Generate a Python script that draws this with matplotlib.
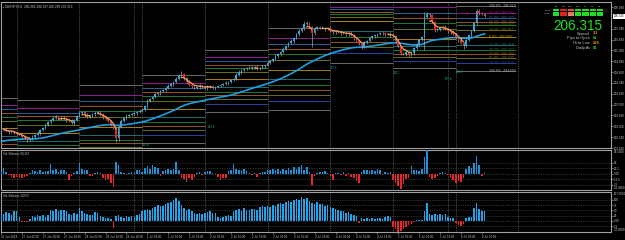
import matplotlib
matplotlib.use("Agg")
import matplotlib.pyplot as plt
import matplotlib.transforms as mtrans
from matplotlib.patches import Rectangle
import numpy as np

plt.rcParams["font.family"] = ["Liberation Sans", "DejaVu Sans"]

W, H = 625, 240

# hourly closes, GBPJPY H1, 26 Jun 18:00 -> 8 Jul 11:00
CLOSES = [
    202.95, 202.98, 202.92, 202.89, 202.92, 202.86, 202.83, 202.81, 202.75, 202.72,
    202.66, 202.69, 202.75, 202.81, 202.86, 202.95, 203.01, 203.10, 203.19, 203.25,
    203.31, 203.34, 203.31, 203.28, 203.31, 203.25, 203.22, 203.16, 203.25, 203.37,
    203.45, 203.48, 203.40, 203.34, 203.37, 203.42, 203.45, 203.48, 203.40, 203.34,
    203.28, 203.22, 203.13, 203.01, 202.72, 203.04, 203.22, 203.31, 203.37, 203.40,
    203.42, 203.45, 203.48, 203.51, 203.54, 203.66, 203.81, 203.87, 203.93, 204.01,
    204.04, 204.10, 204.13, 204.19, 204.25, 204.31, 204.37, 204.46, 204.55, 204.60,
    204.49, 204.37, 204.28, 204.25, 204.19, 204.22, 204.25, 204.22, 204.19, 204.25,
    204.22, 204.19, 204.22, 204.25, 204.28, 204.31, 204.34, 204.37, 204.43, 204.46,
    204.58, 204.66, 204.72, 204.75, 204.78, 204.78, 204.81, 204.81, 204.75, 204.78,
    204.84, 204.87, 204.93, 204.99, 205.05, 205.14, 205.19, 205.25, 205.34, 205.43,
    205.52, 205.58, 205.67, 205.78, 205.87, 205.96, 206.08, 206.11, 205.99, 205.81,
    205.93, 205.99, 205.96, 205.96, 205.93, 205.96, 205.87, 205.84, 205.87, 205.84,
    205.81, 205.81, 205.78, 205.81, 205.75, 205.67, 205.58, 205.49, 205.40, 205.52,
    205.58, 205.67, 205.73, 205.75, 205.78, 205.81, 205.81, 205.78, 205.78, 205.75,
    205.73, 205.58, 205.43, 205.22, 205.19, 205.25, 205.16, 205.22, 205.37, 205.46,
    205.61, 205.70, 206.29, 206.37, 206.34, 206.14, 205.90, 205.90, 205.96, 205.99,
    205.93, 205.87, 205.84, 205.78, 205.70, 205.61, 205.52, 205.43, 205.61, 205.75,
    205.87, 206.11, 206.46, 206.40, 206.37, 206.315,
]
FIRST_OPEN = 202.92

# wick lengths above / below the body, in pips (0.01)
WICK_HI = [
    4, 3, 5, 2, 4, 3, 2, 4, 3, 5,
    3, 2, 4, 3, 5, 4, 3, 6, 4, 3,
    5, 4, 3, 4, 6, 3, 2, 5, 4, 3,
    6, 4, 3, 5, 3, 4, 5, 3, 2, 4,
    3, 5, 3, 4, 4, 6, 5, 3, 4, 3,
    2, 4, 3, 5, 4, 3, 6, 4, 3, 5,
    4, 3, 4, 3, 5, 4, 3, 5, 6, 9,
    3, 4, 5, 3, 4, 3, 5, 4, 3, 4,
    3, 5, 4, 3, 4, 3, 5, 4, 3, 4,
    6, 5, 3, 4, 3, 5, 4, 3, 6, 4,
    3, 4, 5, 3, 4, 6, 4, 3, 5, 4,
    3, 6, 4, 3, 5, 4, 8, 6, 4, 3,
    5, 4, 3, 6, 4, 3, 5, 4, 3, 4,
    5, 3, 4, 3, 5, 4, 3, 4, 3, 5,
    4, 3, 4, 5, 3, 4, 6, 4, 3, 5,
    4, 3, 6, 4, 3, 5, 4, 3, 4, 5,
    3, 4, 14, 6, 5, 3, 4, 5, 3, 4,
    6, 4, 3, 5, 4, 3, 6, 4, 3, 5,
    4, 3, 6, 5, 4, 3,
]
WICK_LO = [
    3, 4, 3, 5, 3, 4, 3, 5, 4, 3,
    6, 4, 3, 4, 3, 5, 3, 4, 3, 5,
    4, 3, 5, 4, 3, 6, 4, 3, 5, 4,
    3, 4, 6, 3, 4, 3, 5, 4, 3, 6,
    4, 3, 5, 4, 12, 8, 4, 3, 5, 4,
    3, 4, 5, 3, 4, 3, 5, 4, 3, 4,
    3, 5, 4, 3, 4, 3, 5, 4, 3, 4,
    5, 4, 3, 6, 4, 3, 5, 4, 3, 5,
    4, 3, 5, 4, 3, 4, 3, 5, 4, 3,
    4, 3, 5, 4, 3, 4, 6, 5, 3, 4,
    3, 5, 4, 3, 4, 3, 5, 4, 3, 4,
    3, 4, 5, 3, 4, 3, 5, 4, 3, 41,
    5, 3, 4, 3, 6, 4, 3, 5, 4, 3,
    4, 3, 5, 4, 3, 5, 4, 3, 6, 4,
    3, 4, 3, 5, 4, 3, 4, 5, 3, 4,
    3, 5, 4, 6, 3, 4, 5, 3, 4, 3,
    4, 3, 38, 5, 4, 3, 6, 4, 3, 4,
    3, 5, 4, 3, 4, 5, 3, 9, 4, 3,
    4, 3, 5, 4, 3, 4,
]

VB_FAST = [
    6, 13, 4, -3, -7, -9, -6, -8, -10, -7,
    -5, 3, 9, 6, 5, 8, 4, 7, 6, 23,
    9, 11, 5, 8, 10, 4, -14, -5, 3, 6,
    25, 12, 8, 10, -5, -4, 3, 4, 2, -10,
    -14, -12, -20, -30, 27, 20, 5, 3, -3, 2,
    4, 3, 10, 8, 5, 14, 18, 12, 20, 16,
    13, -5, 6, 10, 12, 8, 11, 27, 9, -8,
    -12, -19, -10, -13, -6, 3, 5, -2, 4, 6,
    7, 3, -2, -6, -14, -10, -8, 6, 8, 22,
    12, 10, 8, 11, 6, 2, -3, 3, -6, 2,
    4, 5, 10, 8, 12, 9, 11, 7, 12, 10,
    14, 9, 16, 12, 15, 20, 8, 17, 5, -25,
    -4, 3, 5, 4, 6, 3, -5, -14, 2, 3,
    -3, 4, -4, 3, -6, -10, -17, -20, 5, 8,
    9, 6, 10, 7, 11, 8, -3, 4, 3, 5,
    -14, -20, -28, -34, -22, -12, -10, 18, 8, 10,
    6, 12, 38, 55, -6, -12, -10, -5, 3, 4,
    2, -3, -10, -14, -20, -16, -18, -8, 12, 18,
    14, 25, 40, 20, -4, 2,
]
VB_SLOW = [
    30, 35, 42, 38, 30, 45, 48, 20, -5, -6,
    -4, 10, 22, 18, 28, 25, 30, 20, 28, 50,
    45, 55, 48, 50, 52, 45, 35, 30, 38, 35,
    60, 45, 40, 35, 28, 30, 42, 38, 25, 20,
    15, 12, 10, -35, 25, 30, 20, 15, 22, 18,
    25, 20, 30, 35, 45, 50, 58, 52, 62, 68,
    75, 70, 72, 80, 85, 90, 100, 110, 95, 75,
    60, 50, 55, 45, 38, 35, 40, 32, 38, 42,
    45, 40, 38, 20, 15, 18, 22, 30, 25, 45,
    50, 55, 48, 60, 52, 50, 55, 58, 50, 65,
    70, 68, 72, 65, 75, 70, 78, 85, 80, 90,
    95, 88, 100, 105, 98, 115, 102, 110, 95, 85,
    80, 88, 78, 82, 70, 75, 65, 60, 55, 50,
    45, 48, 40, 42, 35, 30, 25, -10, 15, 10,
    12, 8, 15, 10, 14, 12, 8, 18, 22, 20,
    -30, -40, -50, -45, -38, -30, -20, -15, -5, 5,
    4, 6, 45, 85, 35, 30, 32, 28, 35, 30,
    32, 20, 15, 12, -10, -20, -25, -15, 12, 18,
    20, 60, 85, 55, 45, 48,
]

TIME_LABELS = [
    "26 Jun 2024", "27 Jun 02:00", "27 Jun 10:00", "27 Jun 18:00",
    "28 Jun 02:00", "28 Jun 10:00", "28 Jun 18:00", "1 Jul 02:00",
    "1 Jul 10:00", "1 Jul 18:00", "2 Jul 02:00", "2 Jul 10:00",
    "2 Jul 18:00", "3 Jul 02:00", "3 Jul 10:00", "3 Jul 18:00",
    "4 Jul 02:00", "4 Jul 10:00", "4 Jul 18:00", "5 Jul 02:00",
    "5 Jul 10:00", "5 Jul 18:00", "8 Jul 02:00", "8 Jul 10:00",
]
SEPARATORS = [6, 30, 51, 54, 78, 102, 126, 150, 171, 174, 198]

MA_SEED = 202.60
MA_PERIOD = 50

# daily fibo sets (bar range, high, centre, low)
FIB_START = [-1, 6, 30, 54, 78, 102, 126, 150, 174]
FIB_END = [6, 30, 54, 78, 102, 126, 150, 174, 197]
FIB_TOP = [203.896, 203.837, 204.280, 204.575, 205.312, 205.961, 206.728, 206.876, 206.610]
FIB_MID = [203.011, 202.864, 203.040, 203.572, 204.457, 204.722, 206.168, 205.637, 205.695]
FIB_BOT = [202.067, 201.920, 202.070, 202.568, 203.483, 203.542, 204.929, 204.781, 204.692]
FIB_PCT = [23.6, 38.2, 50.0, 61.8, 76.4, 100.0]
FIB_UP_COL = ["#70701E", "#1F7A2A", "#96582A", "#2C5E96", "#8E1E8E", "#6A6A6A"]
FIB_DN_COL = ["#1E6E6E", "#1F7A2A", "#96582A", "#6A6A28", "#2A449A", "#6A6A6A"]
FIB_MID_COL = "#A88012"

MAIN_TICKS = [206.580, 205.940, 205.620, 205.300, 204.980, 204.660,
              204.340, 204.020, 203.700, 203.380, 203.060, 202.740, 202.420]

TAG_TEXT = ["204.4", "203.8", "203.5", "206.7", "206.1", "205.9"]
TAG_BAR = [54, 79, 126, 150, 174, 170]
TAG_PRICE = [202.50, 203.04, 204.78, 204.63, 204.66, 204.45]

SIG_TF = ["M1", "M5", "M15", "M30", "H1", "H4", "D1"]
SIG_COL = [
    ["#22DD22", "#22DD22", "#22DD22"],
    ["#DD2222", "#DD2222", "#DD2222"],
    ["#E05040", "#E07858", "#E08A60"],
    ["#22DD22", "#22DD22", "#22DD22"],
    ["#22DD22", "#22DD22", "#22DD22"],
    ["#22DD22", "#22DD22", "#22DD22"],
    ["#22DD22", "#22DD22", "#22DD22"],
]
INFO_NAMES = ["Spread", "Pips to Open", "Hi to Low", "Daily Av"]
INFO_VALUES = ["3.1", "61", "128", "81"]
INFO_COLORS = ["#FF8C1A", "#33CC33", "#FF8C1A", "#33CC33"]
LAST_PRICE = 206.315

BULL = "#2AA8E8"
BEAR = "#E8262A"
GRID = "#8A8A8A"
TXT = "#C8C8C8"


def ema(values, period, seed):
    a = 2.0 / (period + 1)
    v = seed
    out = []
    for c in values:
        v = v + a * (c - v)
        out.append(v)
    return np.array(out)


closes = np.array(CLOSES)
opens = np.concatenate([[FIRST_OPEN], closes[:-1]])
highs = np.maximum(opens, closes) + np.array(WICK_HI) * 0.01
lows = np.minimum(opens, closes) - np.array(WICK_LO) * 0.01
x = np.arange(len(closes))
up = closes >= opens

fig = plt.figure(figsize=(W / 100, H / 100), dpi=100, facecolor="black")


def box(top, bottom, left=1, right=611):
    return [left / W, 1 - bottom / H, (right - left) / W, (bottom - top) / H]


ax = fig.add_axes(box(2, 148))
ax1 = fig.add_axes(box(150, 190), sharex=ax)
ax2 = fig.add_axes(box(192, 232), sharex=ax)

for a in (ax, ax1, ax2):
    a.set_facecolor("black")
    for sp in a.spines.values():
        sp.set_color("#A0A0A0")
        sp.set_linewidth(0.8)
    a.yaxis.tick_right()
    a.tick_params(axis="y", colors=TXT, labelsize=2.2, length=1.5, width=0.4, pad=0.8)
    a.tick_params(axis="x", length=0, labelbottom=False)
    for s in SEPARATORS:
        a.axvline(s, color=GRID, lw=0.5, ls=(0, (1, 1.5)), zorder=1)

ax.set_xlim(0, 233.4)
ax.set_ylim(202.42, 206.73)

# daily fibo ladders
for k in range(len(FIB_START)):
    s, e = FIB_START[k], FIB_END[k]
    mid, top, bot = FIB_MID[k], FIB_TOP[k], FIB_BOT[k]
    ax.hlines(mid, s, e, color=FIB_MID_COL, lw=0.7, zorder=2)
    for p, cu, cd in zip(FIB_PCT, FIB_UP_COL, FIB_DN_COL):
        ax.hlines(mid + p / 100 * (top - mid), s, e, color=cu, lw=0.7, zorder=2)
        ax.hlines(mid - p / 100 * (mid - bot), s, e, color=cd, lw=0.7, zorder=2)

# labels of the current day fibo
lx = len(closes) + 0.8
mid, top, bot = FIB_MID[-1], FIB_TOP[-1], FIB_BOT[-1]
ax.text(lx, mid, f"0.0%  {mid:.3f}", color="#C89A1C", fontsize=2.5, va="center")
for p, cu, cd in zip(FIB_PCT, FIB_UP_COL, FIB_DN_COL):
    v = mid + p / 100 * (top - mid)
    ax.text(lx, v, f"{p:.1f}%  {v:.3f}", color="#B0B0B0" if p == 100 else cu, fontsize=2.5, va="center")
    v = mid - p / 100 * (mid - bot)
    ax.text(lx, v, f"{p:.1f}%  {v:.3f}", color="#B0B0B0" if p == 100 else cd, fontsize=2.5, va="center")

# moving averages
ma = ema(closes, MA_PERIOD, MA_SEED)
ax.plot(x, ma, color="#1E9FE3", lw=1.2, zorder=3)
fast = ema(closes, 4, closes[0])
d = np.diff(fast)
falling = np.zeros(len(fast), dtype=bool)
falling[1:] |= d < 0
falling[:-1] |= d < 0
ax.plot(x, np.where(falling, fast, np.nan), color="#EBA060", lw=0.9, zorder=5)

# candles
ax.vlines(x, lows, highs, color="#B4B4B4", lw=0.45, zorder=4)
body = np.maximum(np.abs(closes - opens), 0.006)
bottom = np.minimum(opens, closes)
ax.bar(x[up], body[up], bottom=bottom[up], width=0.62, color=BULL, lw=0, zorder=4)
ax.bar(x[~up], body[~up], bottom=bottom[~up], width=0.62, color=BEAR, lw=0, zorder=4)

for t, b, p in zip(TAG_TEXT, TAG_BAR, TAG_PRICE):
    ax.text(b, p, t, color="#1FA5A5", fontsize=2.2, va="center")

ax.set_yticks(MAIN_TICKS)
ax.set_yticklabels([f"{v:.3f}" for v in MAIN_TICKS])
bt = mtrans.blended_transform_factory(ax.transAxes, ax.transData)
ax.text(1.004, LAST_PRICE, f"{LAST_PRICE:.3f}", transform=bt, fontsize=2.2, color="black",
        va="center", ha="left", bbox=dict(boxstyle="square,pad=0.15", fc="white", ec="none"))
ax.text(0.004, 0.985, "\u25aa GBPJPY,H1  206.285 206.337 206.239 206.315", transform=ax.transAxes,
        fontsize=2.3, color=TXT, va="top")

# volume balance panels
vf = np.array(VB_FAST)
vs = np.array(VB_SLOW)
ax1.bar(x, vf, width=0.6, color=np.where(vf >= 0, "#1C90D8", BEAR), lw=0, zorder=3)
ax1.set_ylim(-36.4, 54.5)
t1 = [25, 12.5, 0, -12.5, -25]
ax1.set_yticks(t1)
ax1.set_yticklabels(["25", "12.5", "0.00", "-12.5", "-25"])
for v in t1:
    ax1.axhline(v, color="#5A5A5A", lw=0.5, ls=(0, (1, 1.5)), zorder=1)
ax1.text(0.004, 0.97, "Vol. Balance 30,100", transform=ax1.transAxes, fontsize=2.1, color=TXT, va="top")

ax2.bar(x, vs, width=0.6, color=np.where(vs >= 0, "#22A4EC", BEAR), lw=0, zorder=3)
ax2.set_ylim(-52, 137)
t2 = [100, 75, 50, 25, 0, -25]
ax2.set_yticks(t2)
ax2.set_yticklabels(["100", "75", "50", "25", "0.00", "-25"])
for v in t2:
    ax2.axhline(v, color="#5A5A5A", lw=0.5, ls=(0, (1, 1.5)), zorder=1)
ax2.text(0.004, 0.97, "Vol. Balance 10,075", transform=ax2.transAxes, fontsize=2.1, color=TXT, va="top")

for a in (ax1, ax2):
    lo, hi = a.get_ylim()
    a.text(1.004, 1.0, f"{hi:.4f}", transform=a.transAxes, fontsize=2.1, color=TXT, va="top")
    a.text(1.004, 0.0, f"{lo:.4f}", transform=a.transAxes, fontsize=2.1, color=TXT, va="bottom")

ax2.set_xticks(range(0, len(TIME_LABELS) * 8, 8))
ax2.set_xticklabels(TIME_LABELS)
ax2.tick_params(axis="x", length=1.5, width=0.4, colors=TXT, labelsize=2.1, pad=0.6, labelbottom=True)
for lbl in ax2.get_xticklabels():
    lbl.set_ha("left")


# info block, top right
def fx(px):
    return px / W


def fy(py):
    return 1 - py / H


for i, tf in enumerate(SIG_TF):
    x0 = 553 + i * 7.3
    fig.text(fx(x0 + 3), fy(6.5), tf, fontsize=1.7, color=TXT, ha="center", va="center")
    for j, c in enumerate(SIG_COL[i]):
        y0 = 9.0 + j * 2.7
        fig.add_artist(Rectangle((fx(x0), fy(y0 + 2.0)), 6.3 / W, 2.0 / H,
                                 transform=fig.transFigure, color=c, lw=0))
fig.text(fx(551), fy(10.5), "Trend", fontsize=1.7, color=TXT, ha="right", va="center")
fig.text(fx(551), fy(14.0), "Signal", fontsize=1.7, color=TXT, ha="right", va="center")

fig.text(fx(578), fy(29.5), f"{LAST_PRICE:.3f}", fontsize=9.8, color="#22E022",
         ha="center", va="baseline")
for k, (n, v, c) in enumerate(zip(INFO_NAMES, INFO_VALUES, INFO_COLORS)):
    yy = 33.5 + k * 4.7
    fig.text(fx(590), fy(yy), n, fontsize=2.9, color=TXT, ha="right", va="center")
    fig.text(fx(593), fy(yy), v, fontsize=2.9, color=c, ha="left", va="center", weight="bold")

fig.savefig("out.png", dpi=100, facecolor="black")
